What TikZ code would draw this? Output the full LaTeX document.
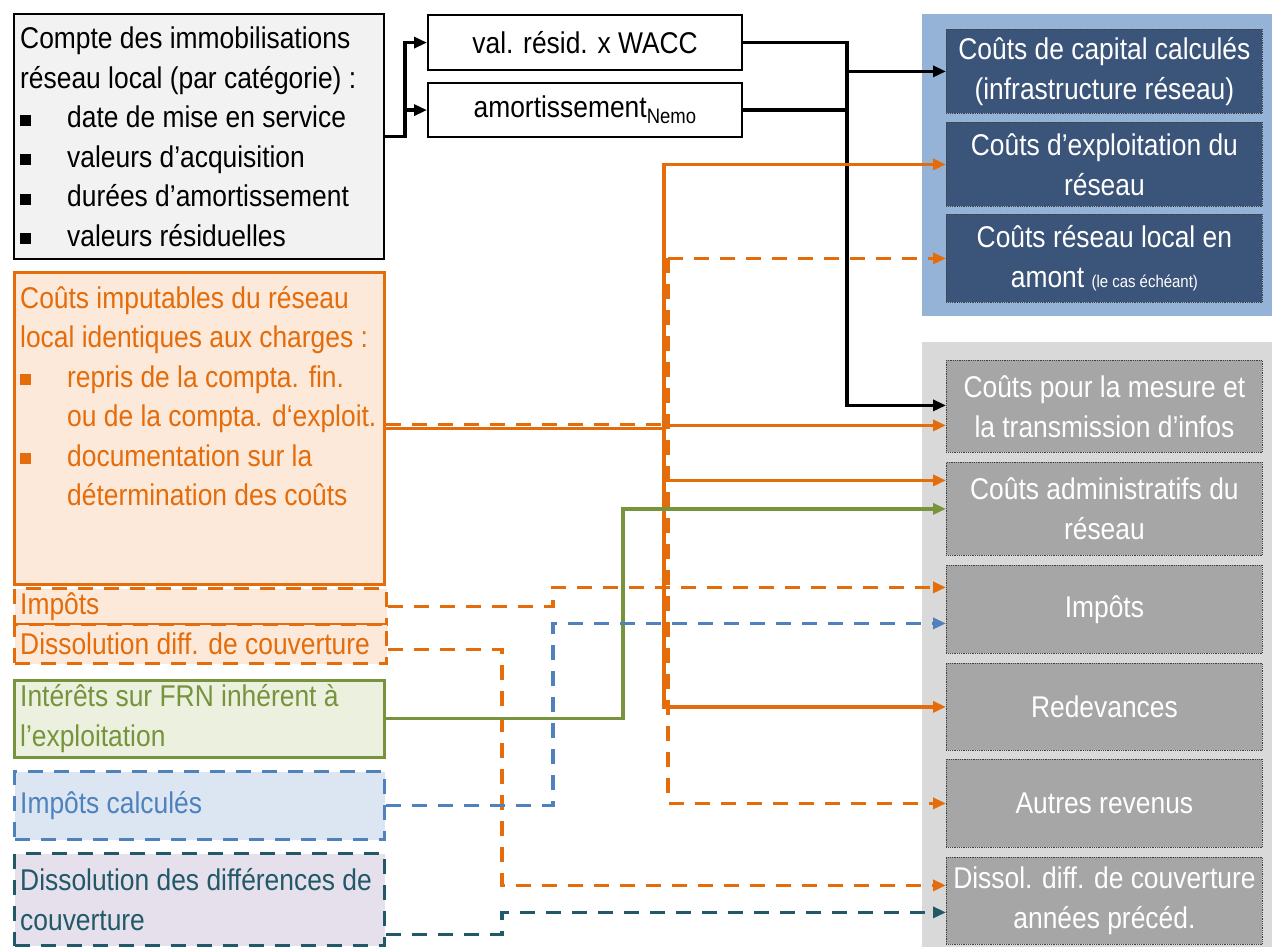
\documentclass[tikz,border=0pt]{standalone}
\usepackage{fontspec}
\setmainfont{Liberation Sans}[FakeStretch=0.88]
\usetikzlibrary{arrows.meta}
\definecolor{orangeC}{HTML}{E46C0A}
\definecolor{orangeF}{HTML}{FDE9D9}
\definecolor{greenC}{HTML}{77933C}
\definecolor{greenF}{HTML}{EBF1DE}
\definecolor{blueC}{HTML}{4F81BD}
\definecolor{blueF}{HTML}{DCE6F2}
\definecolor{tealC}{HTML}{215968}
\definecolor{lilacF}{HTML}{E6E0EC}
\definecolor{paleG}{HTML}{F2F2F2}
\definecolor{capBg}{HTML}{95B3D7}
\definecolor{capBox}{HTML}{3B5479}
\definecolor{opBg}{HTML}{D9D9D9}
\definecolor{opBox}{HTML}{A6A6A6}
% square list bullet followed by the indent of the item text
\newcommand\sqbul{\makebox[47pt][l]{\rule[2pt]{11pt}{11pt}}}
\newcommand\sqind{\makebox[47pt]{}}
\begin{document}
\begin{tikzpicture}[x=1pt,y=-1pt,
  every node/.style={font=\fontsize{30}{39.5}\selectfont},
  srcbox/.style={anchor=north west, inner sep=0pt, minimum width=370pt},
  ltxt/.style={anchor=west, align=left, inner sep=0pt},
  midbox/.style={anchor=north west, inner sep=0pt, draw=black, fill=white,
    line width=2.2pt, minimum width=314pt},
  tgtbox/.style={anchor=north west, inner sep=0pt, minimum width=316pt,
    draw=black!75, densely dotted, line width=0.8pt, text=white, align=center,
    font=\fontsize{30}{40}\selectfont},
  capcell/.style={tgtbox, fill=capBox},
  opcell/.style={tgtbox, fill=opBox},
  arr/.style={-{Triangle[length=13pt,width=11pt]}},
  dsh/.style={dash pattern=on 15pt off 11pt},
  blk/.style={line width=3.3pt, black, line cap=rect},
  org/.style={line width=3.3pt, orangeC, line cap=rect},
  orgd/.style={line width=3.3pt, orangeC, dsh},
  grnl/.style={line width=3.3pt, greenC, line cap=rect},
  blul/.style={line width=3.3pt, blueC, dsh},
  teall/.style={line width=3.3pt, tealC, dsh}]

\fill[white] (0,0) rectangle (1272,947);
\useasboundingbox (0,0) rectangle (1272,947);

% ---------- source boxes (left column) ----------
\node[srcbox, draw=black, fill=paleG, line width=2.2pt, minimum height=245pt] (cpt) at (13,13) {};
\node[ltxt] (cpt-t) at ([xshift=7pt]cpt.west) {Compte des immobilisations\\
  réseau local (par catégorie) :\\
  \sqbul date de mise en service\\
  \sqbul valeurs d’acquisition\\
  \sqbul durées d’amortissement\\
  \sqbul valeurs résiduelles};

\node[srcbox, draw=orangeC, fill=orangeF, line width=2.6pt, minimum height=312pt] (imp) at (13,271) {};
\node[ltxt, anchor=north west, text=orangeC] (imp-t) at (20,286) {Coûts imputables du réseau\\
  local identiques aux charges :\\
  \sqbul repris de la compta. fin.\\
  \sqind ou de la compta. d‘exploit.\\
  \sqbul documentation sur la\\
  \sqind détermination des coûts};

\node[srcbox, minimum width=372pt, draw=orangeC, fill=orangeF, line width=3.3pt, dsh, minimum height=36pt] (tax) at (13,587) {};
\node[ltxt, text=orangeC] (tax-t) at ([xshift=7pt]tax.west) {Impôts};
\node[srcbox, minimum width=372pt, draw=orangeC, fill=orangeF, line width=3.3pt, dsh, minimum height=39pt] (dif) at (13,623) {};
\node[ltxt, text=orangeC] (dif-t) at ([xshift=7pt]dif.west) {Dissolution diff. de couverture};

\node[srcbox, draw=greenC, fill=greenF, line width=2.6pt, minimum height=77pt] (grn) at (13,679) {};
\node[ltxt, text=greenC] (grn-t) at ([xshift=7pt]grn.west) {Intérêts sur FRN inhérent à\\l’exploitation};

\node[srcbox, draw=blueC, fill=blueF, line width=3.3pt, dsh, minimum height=68pt] (cal) at (13,770) {};
\node[ltxt, text=blueC] (cal-t) at ([xshift=7pt]cal.west) {Impôts calculés};

\node[srcbox, draw=tealC, fill=lilacF, line width=3.3pt, dsh, minimum height=92pt] (dcv) at (13,852) {};
\node[ltxt, text=tealC] (dcv-t) at ([xshift=7pt]dcv.west) {Dissolution des différences de\\couverture};

% ---------- intermediate boxes ----------
\node[midbox, minimum height=55pt] (val) at (427,14) {val. résid. x WACC};
\node[midbox, minimum height=54pt] (amo) at (427,82) {amortissement\textsubscript{Nemo}};

% ---------- target panels (right column) ----------
\fill[capBg] (922,14) rectangle (1272,316);
\fill[opBg] (922,342) rectangle (1272,947);

\node[capcell, minimum height=84pt] (cap) at (946,29) {Coûts de capital calculés\\(infrastructure réseau)};
\node[capcell, minimum height=84pt] (exp) at (946,122) {Coûts d’exploitation du\\réseau};
\node[capcell, minimum height=88pt] (amt) at (946,214) {Coûts réseau local en\\amont {\fontsize{17}{20}\selectfont(le cas échéant)}};

\node[opcell, minimum height=92pt] (mes) at (946,360) {Coûts pour la mesure et\\la transmission d’infos};
\node[opcell, minimum height=93pt] (adm) at (946,462) {Coûts administratifs du\\réseau};
\node[opcell, minimum height=88pt] (imp2) at (946,565) {Impôts};
\node[opcell, minimum height=87pt] (red) at (946,663) {Redevances};
\node[opcell, minimum height=88pt] (aut) at (946,759) {Autres revenus};
\node[opcell, minimum height=87pt] (dis) at (946,857) {Dissol. diff. de couverture\\années précéd.};

% ---------- routing columns and port points ----------
\coordinate (bx) at (405,0);
\coordinate (kx) at (847,0);
\coordinate (ox) at (664,0);
\coordinate (odx) at (668,0);
\coordinate (gx) at (623,0);
\coordinate (ix) at (553,0);
\coordinate (dx) at (502,0);

\coordinate (mes-k) at ([yshift=1pt]mes.west);
\coordinate (mes-o) at ([yshift=-19pt]mes.west);
\coordinate (adm-o) at ([yshift=28.5pt]adm.west);
\coordinate (imp2-o) at ([yshift=22pt]imp2.west);
\coordinate (imp2-b) at ([yshift=-14pt]imp2.west);
\coordinate (dis-o) at ([yshift=15.5pt]dis.west);
\coordinate (dis-t) at ([yshift=-11.5pt]dis.west);
\coordinate (imp-d) at ([yshift=4pt]imp.east);
\coordinate (dif-e) at ([yshift=-5pt]dif.east);
\coordinate (dcv-e) at ([yshift=-35pt]dcv.east);

% ---------- black: fixed-asset account ----------
\draw[blk,arr] (cpt.east) -| (bx |- val.west) -- (val.west);
\draw[blk,arr] (bx |- cpt.east) |- (amo.west);
\draw[blk,arr] (val.east) -| (kx |- mes-k) -- (mes-k);
\draw[blk] (amo.east) -- (kx |- amo.east);
\draw[blk,arr] (kx |- cap.west) -- (cap.west);

% ---------- orange: imputable costs ----------
\draw[orgd] (imp-d) -- (odx |- imp-d);
\draw[orgd,arr] (odx |- amt.west) -- (odx |- aut.west) -- (aut.west);
\draw[orgd,arr] (odx |- amt.west) -- (amt.west);
\draw[org] (imp.east) -- (ox |- imp.east);
\draw[org,arr] (ox |- exp.west) -- (ox |- red.west) -- (red.west);
\draw[org,arr] (ox |- exp.west) -- (exp.west);
\draw[org,arr] (ox |- mes-o) -- (mes-o);
\draw[org,arr] (ox |- adm-o) -- (adm-o);

% ---------- taxes and cover differences ----------
\draw[orgd,arr] (tax.east) -| (ix |- imp2-o) -- (imp2-o);
\draw[orgd,arr] (dif-e) -| (dx |- dis-o) -- (dis-o);
\draw[grnl,arr] (grn.east) -| (gx |- adm.west) -- (adm.west);
\draw[blul,arr] (cal.east) -| (ix |- imp2-b) -- (imp2-b);
\draw[teall,arr] (dcv-e) -| (dx |- dis-t) -- (dis-t);

\end{tikzpicture}
\end{document}
